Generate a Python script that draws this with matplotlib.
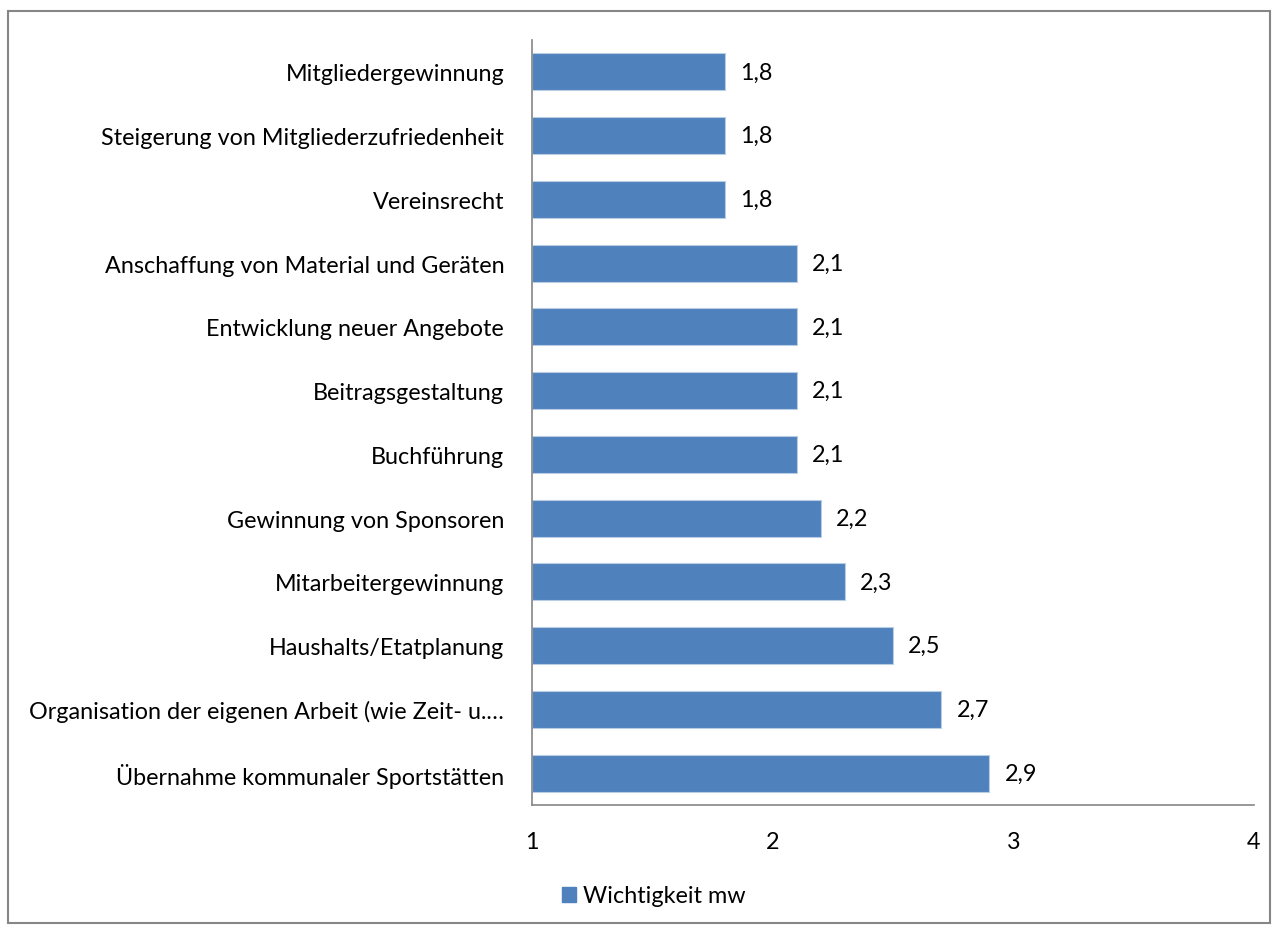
import matplotlib.pyplot as plt
from matplotlib.patches import Rectangle, Patch

plt.rcParams['font.family'] = ['Lato', 'DejaVu Sans']

categories = ['Mitgliedergewinnung', 'Steigerung von Mitgliederzufriedenheit', 'Vereinsrecht',
              'Anschaffung von Material und Geräten', 'Entwicklung neuer Angebote',
              'Beitragsgestaltung', 'Buchführung', 'Gewinnung von Sponsoren',
              'Mitarbeitergewinnung', 'Haushalts/Etatplanung',
              'Organisation der eigenen Arbeit (wie Zeit- u.…', 'Übernahme kommunaler Sportstätten']
values = [1.8, 1.8, 1.8, 2.1, 2.1, 2.1, 2.1, 2.2, 2.3, 2.5, 2.7, 2.9]
value_labels = ['1,8', '1,8', '1,8', '2,1', '2,1', '2,1', '2,1', '2,2', '2,3', '2,5', '2,7', '2,9']
x_ticks = [1, 2, 3, 4]

bar_color = '#4F81BD'
fs = 16.8
W, H = 1277, 929
fig = plt.figure(figsize=(W / 100, H / 100), dpi=100)
ax = fig.add_axes([532 / W, 1 - 806 / H, (1254 - 532) / W, (806 - 41) / H])

ypos = list(range(len(categories)))
ax.barh(ypos, [v - 1 for v in values], left=1, height=0.58, color=bar_color,
        edgecolor='#B9CDE5', linewidth=0.8)

for y, v, lab in zip(ypos, values, value_labels):
    ax.annotate(lab, (v, y), xytext=(11, 0), textcoords='offset points',
                va='center', ha='left', fontsize=fs)

ax.set_xlim(1, 4)
ax.set_ylim(len(categories) - 0.5, -0.5)
ax.set_xticks(x_ticks)
ax.set_xticklabels([str(t) for t in x_ticks], fontsize=fs)
ax.set_yticks(ypos)
ax.set_yticklabels(categories, fontsize=fs)
ax.tick_params(axis='both', length=0)
ax.tick_params(axis='y', pad=20)
ax.tick_params(axis='x', pad=19)

for s in ['top', 'right']:
    ax.spines[s].set_visible(False)
for s in ['left', 'bottom']:
    ax.spines[s].set_color('#868686')
    ax.spines[s].set_linewidth(1.2)

fig.legend(handles=[Patch(color=bar_color, label='Wichtigkeit mw')],
           loc='center', bbox_to_anchor=(654 / W, 1 - 897 / H), frameon=False,
           fontsize=fs, handlelength=0.6, handleheight=0.6, handletextpad=0.3)

fig.patches.append(Rectangle((8 / W, 1 - 924 / H), (1270 - 8) / W, (924 - 12) / H,
                             transform=fig.transFigure, fill=False,
                             edgecolor='#868686', linewidth=1.5))

fig.savefig('out.png', dpi=100)
